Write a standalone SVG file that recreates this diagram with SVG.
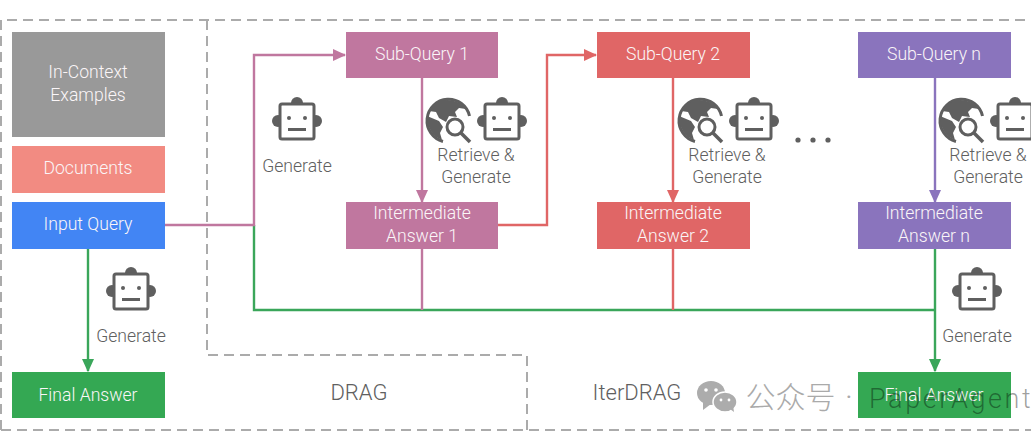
<svg xmlns="http://www.w3.org/2000/svg" width="1031" height="439" viewBox="0 0 1031 439">
<style>
text{font-family:"Roboto","Liberation Sans",sans-serif;font-size:17.6px;font-weight:300;text-anchor:middle}
.w{fill:#fbf6f8}
.g{fill:#606060}
.d{fill:none;stroke:#ababab;stroke-width:2;stroke-dasharray:10 6}
.c{fill:none;stroke-width:2.4}
.pk{stroke:#c0779f}.rd{stroke:#e06666}.pu{stroke:#8a74bd}.gr{stroke:#3aa65a}
</style>
<defs>
<symbol id="robot" overflow="visible">
<circle cx="0" cy="-18" r="6" fill="#5f5f5f"/>
<circle cx="-19" cy="0" r="6" fill="#5f5f5f"/>
<circle cx="19" cy="0" r="6" fill="#5f5f5f"/>
<rect x="-17" y="-17" width="34" height="35" rx="2" fill="#fff" stroke="#5f5f5f" stroke-width="3"/>
<circle cx="-8" cy="-3" r="2" fill="#5f5f5f"/>
<circle cx="8" cy="-3" r="2" fill="#5f5f5f"/>
<rect x="-9" y="7" width="18" height="3" fill="#5f5f5f"/>
</symbol>
<symbol id="globe" overflow="visible">
<path d="M-5 21.5A21.5 21.5 0 1 1 21.5 -4" fill="none" stroke="#5f5f5f" stroke-width="3"/>
<path d="M-19 -9C-13 -21 6 -25 18 -11L11 -12L7 -8L9 -3L1 -4L-2 2L-9 -2L-12 -8Z" fill="#5f5f5f"/>
<path d="M-21 -4L-9 1L-5 7L-8 13L-6 20C-15 17 -21 8 -21 -4Z" fill="#5f5f5f"/>
<circle cx="7" cy="7" r="8" fill="#fff" stroke="#5f5f5f" stroke-width="3"/>
<path d="M13 13L22 22" stroke="#5f5f5f" stroke-width="3.5"/>
</symbol>
<marker id="apk" markerWidth="5.5" markerHeight="5" refX="5" refY="2.5" orient="auto"><path d="M0 0L5.5 2.5L0 5Z" fill="#c0779f"/></marker>
<marker id="ard" markerWidth="5.5" markerHeight="5" refX="5" refY="2.5" orient="auto"><path d="M0 0L5.5 2.5L0 5Z" fill="#e06666"/></marker>
<marker id="apu" markerWidth="5.5" markerHeight="5" refX="5" refY="2.5" orient="auto"><path d="M0 0L5.5 2.5L0 5Z" fill="#8a74bd"/></marker>
<marker id="agr" markerWidth="5.5" markerHeight="5" refX="5" refY="2.5" orient="auto"><path d="M0 0L5.5 2.5L0 5Z" fill="#3aa65a"/></marker>
</defs>
<rect width="1031" height="439" fill="#fff"/>
<g id="frames">
<path class="d" d="M1 430V20H1031"/>
<path class="d" d="M1 430H1031"/>
<path class="d" d="M207 20V355H527V430"/>
</g>
<g id="connectors">
<path class="c gr" d="M254 225V310H935"/>
<path class="c pk" d="M164 225H254V55H345" marker-end="url(#apk)"/>
<path class="c pk" d="M422 78V202" marker-end="url(#apk)"/>
<path class="c pk" d="M422 249V310"/>
<path class="c rd" d="M498 225H547V55H596" marker-end="url(#ard)"/>
<path class="c rd" d="M673 78V202" marker-end="url(#ard)"/>
<path class="c rd" d="M673 249V310"/>
<path class="c pu" d="M935 78V202" marker-end="url(#apu)"/>
<path class="c gr" d="M935 249V371" marker-end="url(#agr)"/>
<path class="c gr" d="M88 249V371" marker-end="url(#agr)"/>
</g>
<g id="in-context"><rect x="12" y="32" width="153" height="105" fill="#999"/><text class="w" x="88" y="78">In-Context</text><text class="w" x="88" y="101">Examples</text></g>
<g id="documents"><rect x="12" y="146" width="153" height="47" fill="#f28b82"/><text class="w" x="88" y="174">Documents</text></g>
<g id="input-query"><rect x="12" y="202" width="153" height="47" fill="#4285f4"/><text class="w" x="88" y="230">Input Query</text></g>
<g id="final-answer-left"><rect x="12" y="372" width="153" height="46" fill="#34a853"/><text class="w" x="88" y="401">Final Answer</text></g>
<g id="sub-query-1"><rect x="346" y="32" width="152" height="46" fill="#c0779f"/><text class="w" x="422" y="60">Sub-Query 1</text></g>
<g id="intermediate-1"><rect x="346" y="202" width="152" height="47" fill="#c0779f"/><text class="w" x="422" y="219">Intermediate</text><text class="w" x="422" y="242">Answer 1</text></g>
<g id="sub-query-2"><rect x="597" y="32" width="153" height="46" fill="#e06666"/><text class="w" x="673" y="60">Sub-Query 2</text></g>
<g id="intermediate-2"><rect x="597" y="202" width="153" height="47" fill="#e06666"/><text class="w" x="673" y="219">Intermediate</text><text class="w" x="673" y="242">Answer 2</text></g>
<g id="sub-query-n"><rect x="858" y="32" width="153" height="46" fill="#8a74bd"/><text class="w" x="934" y="60">Sub-Query n</text></g>
<g id="intermediate-n"><rect x="858" y="202" width="153" height="47" fill="#8a74bd"/><text class="w" x="934" y="219">Intermediate</text><text class="w" x="934" y="242">Answer n</text></g>
<g id="final-answer-right"><rect x="858" y="372" width="153" height="46" fill="#34a853"/><text class="w" x="934" y="401">Final Answer</text></g>
<g id="generate-1"><use href="#robot" x="297" y="121"/><text class="g" x="297" y="172">Generate</text></g>
<g id="generate-2"><use href="#robot" x="131" y="291"/><text class="g" x="131" y="342">Generate</text></g>
<g id="generate-3"><use href="#robot" x="977" y="291"/><text class="g" x="977" y="342">Generate</text></g>
<g id="retrieve-1"><use href="#globe" x="448" y="120"/><use href="#robot" x="502" y="121"/><text class="g" x="476" y="161">Retrieve &amp;</text><text class="g" x="476" y="183">Generate</text></g>
<g id="retrieve-2"><use href="#globe" x="700" y="120"/><use href="#robot" x="754" y="121"/><text class="g" x="727" y="161">Retrieve &amp;</text><text class="g" x="727" y="183">Generate</text></g>
<g id="retrieve-n"><use href="#globe" x="961" y="120"/><use href="#robot" x="1015" y="121"/><text class="g" x="988" y="161">Retrieve &amp;</text><text class="g" x="988" y="183">Generate</text></g>
<g id="dots" fill="#5f5f5f"><circle cx="798" cy="140" r="2.6"/><circle cx="813" cy="140" r="2.6"/><circle cx="828" cy="140" r="2.6"/></g>
<g id="labels"><text class="g" x="359" y="400" style="font-size:22px">DRAG</text><text class="g" x="637" y="400" style="font-size:22px">IterDRAG</text></g>
<g id="watermark">
<ellipse cx="711" cy="393" rx="14" ry="12" fill="#acacac"/><path d="M703 402L703 410L711 404Z" fill="#acacac"/>
<ellipse cx="725" cy="402" rx="12" ry="10" fill="#acacac" stroke="#fff" stroke-width="1.5"/><path d="M730 409L734 412L733 405Z" fill="#acacac"/>
<circle cx="706" cy="390" r="1.8" fill="#fff"/><circle cx="716" cy="390" r="1.8" fill="#fff"/><circle cx="721" cy="400" r="1.4" fill="#fff"/><circle cx="729" cy="400" r="1.4" fill="#fff"/>
<text x="790.5" y="408" fill="#aaa" style="font-family:'Noto Sans CJK SC',sans-serif;font-size:30px">公众号</text>
<text x="849" y="405" fill="#aaa" style="font-size:24px;font-weight:400">·</text>
<text x="869" y="408" fill="#000" fill-opacity=".38" style="text-anchor:start;font-size:27px;letter-spacing:2.6px">PaperAgent</text>
</g>
</svg>
